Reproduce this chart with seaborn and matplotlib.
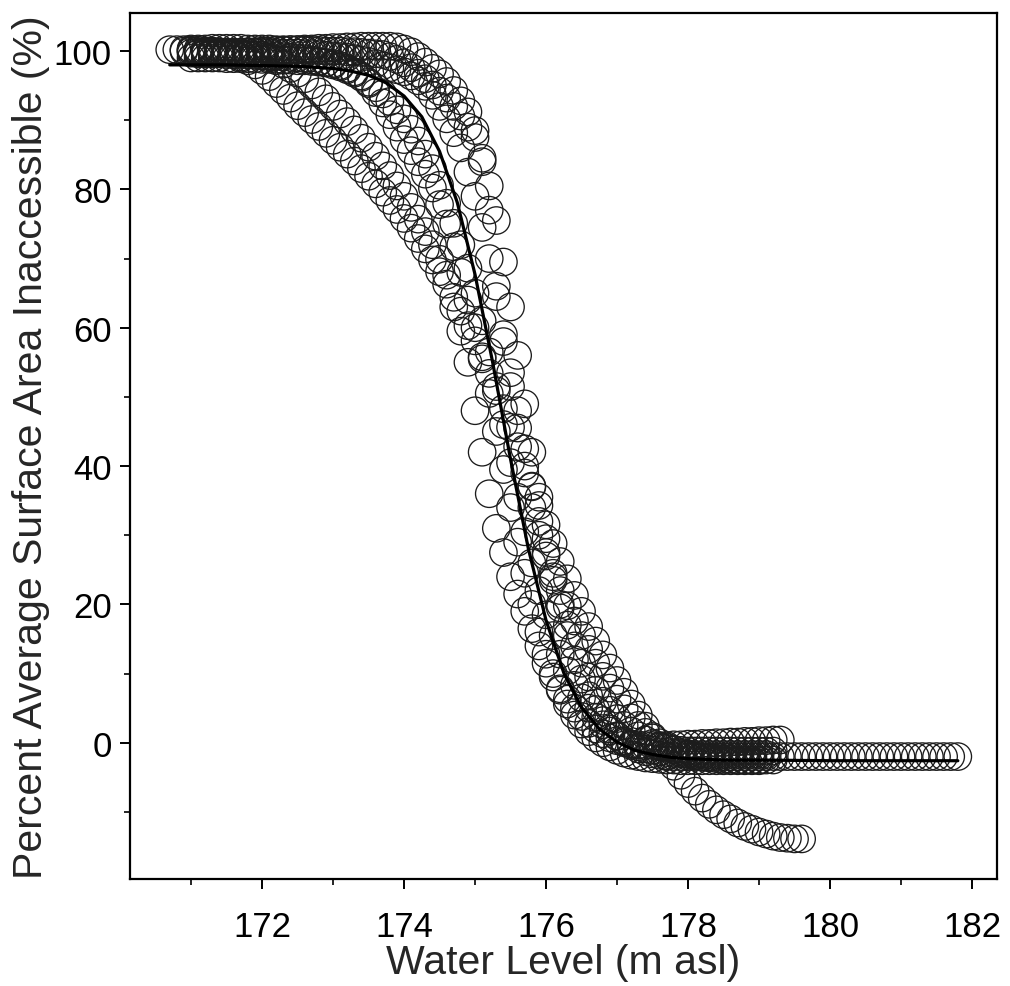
import numpy as np
import pandas as pd
import matplotlib
matplotlib.use("Agg")
import matplotlib.pyplot as plt
import seaborn as sns
from matplotlib.ticker import MultipleLocator

# water levels are logged every 0.1 m, so each series is given by its first level
# and the percentages read off the chart
s1_start = 170.7
s1_pct = [100.2, 100.2, 100.2, 100.1, 100.1, 100.0, 100.0, 99.9, 99.7, 99.5,
          99.1, 98.6, 98.0, 97.2, 96.3, 95.3, 94.3, 93.2, 92.1, 91.1,
          90.1, 89.1, 88.1, 87.1, 86.1, 85.1, 84.1, 83.0, 81.9, 80.8,
          79.6, 78.4, 77.1, 75.8, 74.4, 72.9, 71.4, 69.8, 68.1, 66.3,
          64.4, 62.4, 60.3, 58.1, 55.8, 53.4, 50.9, 48.3, 45.6, 42.8,
          40.0, 37.1, 34.3, 31.5, 28.8, 26.2, 23.7, 21.3, 19.0, 16.8,
          14.7, 12.7, 10.8, 9.0, 7.3, 5.6, 4.0, 2.4, 0.9, -0.6,
          -2.0, -3.4, -4.7, -5.9, -7.0, -8.0, -8.9, -9.7, -10.4, -11.0,
          -11.6, -12.1, -12.5, -12.9, -13.2, -13.5, -13.7, -13.8, -13.9, -13.9]

s2_start = 170.9
s2_pct = [100.0, 100.0, 99.9, 99.9, 99.9, 99.8, 99.8, 99.7, 99.6, 99.5,
          99.4, 99.3, 99.0, 98.6, 98.1, 97.5, 96.8, 96.0, 95.1, 94.1,
          93.1, 92.0, 90.9, 89.8, 88.6, 87.4, 86.1, 84.8, 83.4, 82.0,
          80.5, 79.0, 77.4, 75.7, 73.9, 72.0, 69.9, 67.6, 63.0, 59.5,
          55.0, 48.0, 42.0, 36.0, 31.0, 27.5, 24.0, 21.5, 19.0, 16.5,
          14.0, 11.5, 9.5, 7.8, 6.3, 5.0, 3.8, 2.8, 2.0, 1.3,
          0.7, 0.3, 0.0, -0.2, -0.3, -0.4, -0.4, -0.4, -0.4, -0.3,
          -0.3, -0.2, -0.2, -0.1, -0.1, 0.0, 0.0, 0.1, 0.1, 0.2,
          0.2, 0.3, 0.3, 0.4, 0.4]

s3_start = 171.0
s3_pct = [100.3, 100.3, 100.3, 100.4, 100.4, 100.4, 100.4, 100.4, 100.3, 100.3,
          100.3, 100.3, 100.2, 100.2, 100.2, 100.2, 100.1, 100.1, 100.1, 100.0,
          100.0, 100.0, 99.9, 99.9, 99.8, 99.7, 99.6, 99.5, 99.2, 98.8,
          98.3, 97.6, 96.8, 96.0, 95.1, 94.2, 93.2, 92.0, 90.6, 89.0,
          87.5, 84.5, 80.5, 75.5, 69.5, 63.0, 56.0, 49.0, 42.0, 35.5,
          29.5, 24.0, 19.5, 15.5, 12.0, 9.2, 6.8, 4.8, 3.2, 2.0,
          1.0, 0.2, -0.4, -0.9, -1.3, -1.6, -1.8, -1.9, -2.0, -2.0,
          -2.0, -2.0, -2.0, -2.0, -2.0, -2.0, -2.0, -2.0, -2.0, -2.0,
          -2.0, -2.0, -2.0, -2.0, -2.0, -2.0, -2.0, -2.0, -2.0, -2.0,
          -2.0, -2.0, -2.0, -2.0, -2.0, -2.0, -2.0, -2.0, -2.0, -2.0,
          -2.0, -2.0, -2.0, -2.0, -2.0, -2.0, -2.0, -2.0, -2.0]

s4_start = 171.2
s4_pct = [99.6, 99.6, 99.7, 99.7, 99.8, 99.8, 99.9, 99.9, 100.0, 100.0,
          100.1, 100.1, 100.2, 100.2, 100.3, 100.3, 100.4, 100.4, 100.5, 100.5,
          100.6, 100.6, 100.7, 100.7, 100.7, 100.7, 100.7, 100.6, 100.3, 99.9,
          99.2, 98.4, 97.5, 96.7, 95.6, 94.3, 92.8, 91.2, 88.5, 84.0,
          77.0, 66.0, 58.0, 51.5, 45.5, 39.0, 34.0, 30.0, 27.0, 24.5,
          22.0, 19.8, 17.6, 15.5, 13.5, 11.5, 9.6, 7.9, 6.3, 4.9,
          3.6, 2.5, 1.5, 0.7, 0.0, -0.6, -1.0, -1.4, -1.7, -1.9,
          -2.1, -2.2, -2.3, -2.4, -2.4, -2.5, -2.5, -2.5, -2.5, -2.5,
          -2.5]

s5_start = 171.0
s5_pct = [99.0, 99.0, 99.0, 99.0, 99.0, 98.9, 98.9, 98.9, 98.9, 98.9,
          98.8, 98.8, 98.8, 98.7, 98.7, 98.6, 98.6, 98.5, 98.4, 98.3,
          98.2, 97.9, 97.5, 97.0, 96.4, 95.3, 94.0, 92.5, 90.8, 89.0,
          87.2, 85.6, 84.0, 82.2, 80.2, 77.8, 75.0, 71.7, 68.0, 64.0,
          60.0, 55.5, 50.5, 45.0, 39.5, 34.0, 29.0, 24.5, 20.0, 16.0,
          12.8, 10.0, 7.6, 5.6, 4.0, 2.7, 1.6, 0.7, 0.0, -0.6,
          -1.1, -1.5, -1.8, -2.0, -2.2, -2.3, -2.4, -2.5, -2.5, -2.6,
          -2.6, -2.6, -2.6, -2.6, -2.6, -2.6, -2.6, -2.6, -2.6, -2.6,
          -2.6]

s6_start = 171.1
s6_pct = [99.6, 99.6, 99.6, 99.6, 99.5, 99.5, 99.5, 99.5, 99.4, 99.4,
          99.3, 99.3, 99.2, 99.1, 99.0, 98.9, 98.7, 98.5, 98.3, 98.0,
          97.7, 97.3, 96.8, 96.2, 95.5, 94.7, 93.8, 92.7, 91.5, 90.2,
          88.7, 87.0, 85.1, 83.0, 80.6, 78.0, 75.1, 72.0, 68.6, 65.0,
          61.0, 56.5, 51.5, 46.0, 40.5, 35.5, 30.5, 26.0, 22.0, 18.5,
          15.5, 12.8, 10.4, 8.3, 6.5, 5.0, 3.7, 2.6, 1.7, 0.9,
          0.3, -0.2, -0.6, -0.9, -1.1, -1.3, -1.4, -1.5, -1.6, -1.6,
          -1.7, -1.7, -1.7, -1.7, -1.7, -1.7, -1.7, -1.7, -1.7, -1.7,
          -1.7]

s7_start = 171.0
s7_pct = [99.7, 99.7, 99.7, 99.8, 99.8, 99.8, 99.8, 99.8, 99.8, 99.8,
          99.8, 99.8, 99.8, 99.7, 99.7, 99.7, 99.6, 99.6, 99.5, 99.4,
          99.3, 99.2, 99.1, 98.9, 98.7, 98.5, 98.2, 97.9, 97.6, 97.3,
          97.0, 96.4, 95.7, 94.9, 93.6, 92.0, 90.2, 88.2, 86.0, 82.5,
          79.0, 74.5, 70.0, 64.5, 59.0, 53.5, 48.0, 42.5, 37.0, 32.0,
          27.5, 23.5, 20.0, 17.0, 14.0, 11.5, 9.5, 7.6, 6.0, 4.7,
          3.5, 2.5, 1.7, 1.0, 0.4, -0.1, -0.5, -0.8, -1.0, -1.1,
          -1.2, -1.2, -1.2, -1.2, -1.2, -1.2, -1.2, -1.2, -1.2, -1.2,
          -1.2, -1.2, -1.2]

# fitted sigmoid
fit_level = [170.7, 171.5, 172.0, 172.5, 173.0, 173.25, 173.5, 173.75, 174.0, 174.25,
             174.5, 174.75, 175.0, 175.25, 175.5, 175.75, 176.0, 176.25, 176.5, 176.75,
             177.0, 177.25, 177.5, 177.75, 178.0, 178.5, 179.0, 180.0, 181.0, 181.8]
fit_pct = [98.0, 98.0, 97.9, 97.8, 97.5, 97.1, 96.5, 95.4, 93.5, 90.5,
           85.5, 78.1, 67.7, 54.9, 41.0, 28.1, 17.7, 10.1, 5.1, 2.0,
           0.1, -1.1, -1.7, -2.1, -2.3, -2.5, -2.5, -2.6, -2.6, -2.6]

series = [("s1", s1_start, s1_pct), ("s2", s2_start, s2_pct), ("s3", s3_start, s3_pct),
          ("s4", s4_start, s4_pct), ("s5", s5_start, s5_pct), ("s6", s6_start, s6_pct),
          ("s7", s7_start, s7_pct)]
frames = []
for name, start, pct in series:
    lev = np.round(start + 0.1 * np.arange(len(pct)), 1)
    frames.append(pd.DataFrame({"level": lev, "pct": pct, "series": name}))
pts = pd.concat(frames, ignore_index=True)
fit = pd.DataFrame({"level": fit_level, "pct": fit_pct})

sns.set_theme(style="ticks")
plt.rcParams["font.family"] = ["Liberation Sans", "DejaVu Sans"]

fig, ax = plt.subplots(figsize=(10.1, 9.87), dpi=100)
fig.subplots_adjust(left=0.1287, right=0.987, top=0.9858, bottom=0.1084)

sns.scatterplot(data=pts, x="level", y="pct", s=390, facecolor="none",
                edgecolor="#1c1c1c", linewidth=0.95, ax=ax, legend=False)
sns.lineplot(data=fit, x="level", y="pct", color="black", linewidth=2.3, ax=ax)

ax.set_xlim(170.14, 182.35)
ax.set_ylim(-19.7, 105.5)
ax.xaxis.set_major_locator(MultipleLocator(2))
ax.xaxis.set_minor_locator(MultipleLocator(1))
ax.yaxis.set_minor_locator(MultipleLocator(10))
ax.set_yticks([0, 20, 40, 60, 80, 100])

for sp in ax.spines.values():
    sp.set_linewidth(1.6)
    sp.set_color("black")

ax.tick_params(which="major", direction="out", length=7, width=1.4, colors="black",
               labelsize=25)
ax.tick_params(which="minor", direction="out", length=4.5, width=1.2, colors="black")
ax.tick_params(axis="x", which="major", pad=15)
ax.tick_params(axis="y", which="major", pad=6)

ax.set_xlabel("Water Level (m asl)", fontsize=29.5, labelpad=0)
ax.set_ylabel("Percent Average Surface Area Inaccessible (%)", fontsize=29.5, labelpad=3)

fig.savefig("out.png", dpi=100)
